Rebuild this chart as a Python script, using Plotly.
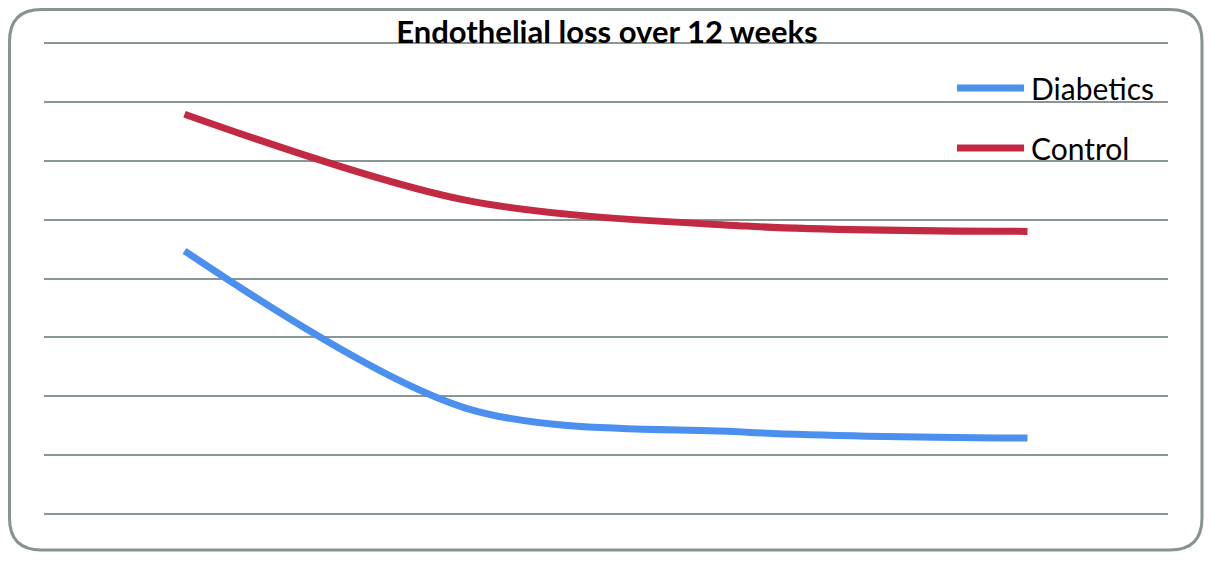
import plotly.graph_objects as go

categories = ["Baseline", "Week 1", "Week 4", "Week 12"]
diabetics = [4.47, 1.80, 1.39, 1.29]
control = [6.79, 5.33, 4.89, 4.80]
series_names = ["Diabetics", "Control"]
series_colors = ["#4b90ef", "#c22a44"]

# page body adds an 8px offset; figure coordinates below are relative to the figure
W, H = 1198, 546
L, R, T, B = 36, 1160, 32, 509

def px(x):
    return (x - L) / (R - L)

def py(y):
    return (B - y) / (B - T)

fig = go.Figure()
for name, vals, col in zip(series_names, [diabetics, control], series_colors):
    fig.add_trace(go.Scatter(x=categories, y=vals, name=name, mode="lines",
                             line=dict(color=col, width=7, shape="spline", smoothing=0.9),
                             showlegend=False))

# rounded border
x0, x1, y0, y1, r = 1.5, 1194, 1.5, 542, 32
path = (f"M {px(x0+r)},{py(y0)} L {px(x1-r)},{py(y0)} Q {px(x1)},{py(y0)} {px(x1)},{py(y0+r)} "
        f"L {px(x1)},{py(y1-r)} Q {px(x1)},{py(y1)} {px(x1-r)},{py(y1)} "
        f"L {px(x0+r)},{py(y1)} Q {px(x0)},{py(y1)} {px(x0)},{py(y1-r)} "
        f"L {px(x0)},{py(y0+r)} Q {px(x0)},{py(y0)} {px(x0+r)},{py(y0)} Z")
fig.add_shape(type="path", path=path, xref="paper", yref="paper",
              line=dict(color="#869391", width=3), layer="below")

# manual legend
legend_y = [80, 140]
for name, col, ly in zip(series_names, series_colors, legend_y):
    fig.add_shape(type="line", xref="paper", yref="paper",
                  x0=px(949), x1=px(1016), y0=py(ly), y1=py(ly),
                  line=dict(color=col, width=7))
    fig.add_annotation(text=name, xref="paper", yref="paper", x=px(1021), y=py(ly),
                       xanchor="left", yanchor="middle", showarrow=False,
                       font=dict(family="Lato", size=30, color="black"))

fig.update_layout(
    width=W, height=H,
    margin=dict(l=L, r=W - R, t=T, b=H - B),
    paper_bgcolor="white", plot_bgcolor="white",
    title=dict(text="<b>Endothelial loss over 12 weeks</b>", x=0.5, xanchor="center",
               y=1 - 24 / H, yanchor="middle", yref="container",
               font=dict(family="Lato", size=31, color="black")),
    xaxis=dict(range=[-0.5, 3.5], showgrid=False, showticklabels=False, zeroline=False,
               showline=False, ticks=""),
    yaxis=dict(range=[-0.05, 8.05], tickvals=list(range(0, 9)), showticklabels=False,
               showgrid=True, gridcolor="#8a9694", gridwidth=2, zeroline=False, ticks=""),
    showlegend=False,
)

fig.write_html("out.html")
